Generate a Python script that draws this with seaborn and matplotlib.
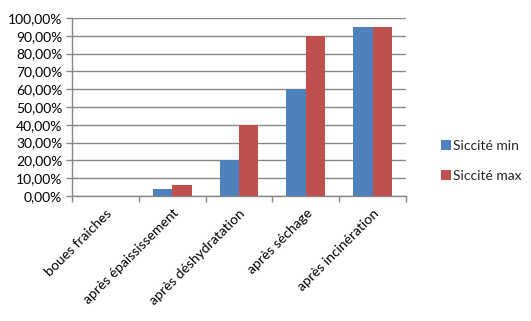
import pandas as pd
import matplotlib
matplotlib.use("Agg")
import matplotlib.pyplot as plt
import seaborn as sns
from matplotlib.ticker import FuncFormatter, FixedLocator

# Data
categories = ["boues fraiches", "après épaississement", "après déshydratation",
              "après séchage", "après incinération"]
siccite_min = [0, 4, 20, 60, 95]
siccite_max = [0, 6, 40, 90, 95]
series_names = ["Siccité min", "Siccité max"]
colors = ["#4F81BD", "#C0504D"]

df = pd.DataFrame({
    "categorie": categories * 2,
    "valeur": siccite_min + siccite_max,
    "serie": [series_names[0]] * len(categories) + [series_names[1]] * len(categories),
})

sns.set_style("white")
plt.rcParams["font.family"] = ["Lato", "DejaVu Sans"]
FS = 10

fig = plt.figure(figsize=(5.31, 3.21), dpi=100)
ax = fig.add_axes([72 / 531, 1 - 196 / 321, (406 - 72) / 531, (196 - 18) / 321])

sns.barplot(data=df, x="categorie", y="valeur", hue="serie", palette=colors,
            width=0.58, saturation=1, linewidth=0, ax=ax, legend=True)

ax.set_ylim(0, 100)
ax.set_xlim(-0.5, len(categories) - 0.5)
ax.set_yticks(range(0, 101, 10))
ax.yaxis.set_major_formatter(FuncFormatter(lambda v, p: f"{v:.2f}%".replace(".", ",")))
ax.grid(axis="y", color="#868686", linewidth=1)
ax.set_axisbelow(True)

# category labels at centres, tick marks at boundaries
ax.set_xticks(range(len(categories)))
ax.set_xticklabels(categories, rotation=45, ha="right", rotation_mode="anchor")
ax.tick_params(axis="x", which="major", length=0, pad=8, labelsize=FS, colors="black")
ax.xaxis.set_minor_locator(FixedLocator([i - 0.5 for i in range(len(categories) + 1)]))
ax.tick_params(axis="x", which="minor", length=4, color="#868686", width=1, direction="out")
ax.tick_params(axis="y", length=4, color="#868686", width=1, direction="out",
               labelsize=FS, labelcolor="black", pad=3)
ax.tick_params(axis="both", bottom=True, left=True)
ax.xaxis.set_tick_params(which="minor", bottom=True)

for side in ["top", "right"]:
    ax.spines[side].set_visible(False)
for side in ["left", "bottom"]:
    ax.spines[side].set_color("#868686")
    ax.spines[side].set_linewidth(1)

ax.set_xlabel("")
ax.set_ylabel("")

ax.legend(loc="center left", bbox_to_anchor=(434 / 531, 1 - 161 / 321),
          bbox_transform=fig.transFigure, frameon=False, fontsize=FS,
          handlelength=0.75, handleheight=0.75, handletextpad=0.15, labelspacing=1.3,
          borderpad=0)

fig.savefig("out.png", dpi=100)
